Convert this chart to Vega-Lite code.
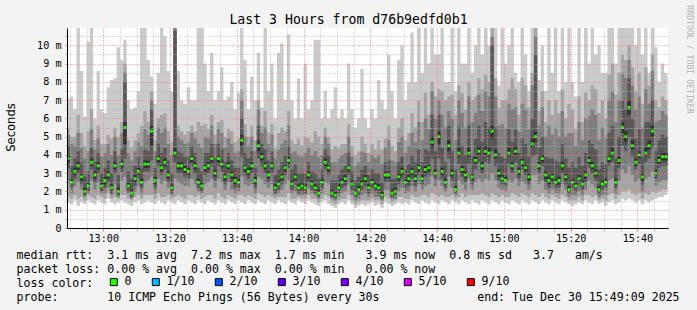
{
"$schema": "https://vega.github.io/schema/vega-lite/v6.json",
"width": 601, "height": 200,
"autosize": {"type": "none"},
"padding": {"left": 67, "top": 28, "right": 29, "bottom": 82},
"background": "#f3f3f3",
"view": {"fill": "#ffffff", "stroke": null},
"data": {"values": [
{"t":769,"a":1.4,"b":1.7,"c":2.6,"d":3.3,"e":3.6,"f":4.0,"g":4.5,"h":5.1,"i":5.5,"j":7.1,"m":3.8,"l":"0"},
{"t":770,"a":1.3,"b":1.6,"c":1.9,"d":2.2,"e":2.4,"f":2.7,"g":3.4,"h":4.6,"i":5.0,"j":7.2,"m":2.5,"l":"0"},
{"t":771,"a":1.5,"b":1.8,"c":2.3,"d":2.7,"e":2.9,"f":3.3,"g":3.8,"h":4.5,"i":5.0,"j":6.5,"m":3.1,"l":"0"},
{"t":772,"a":1.2,"b":1.6,"c":2.5,"d":3.0,"e":3.2,"f":3.6,"g":4.2,"h":5.2,"i":6.2,"j":11,"m":3.4,"l":"0"},
{"t":773,"a":1.4,"b":1.7,"c":2.1,"d":2.4,"e":2.6,"f":3.0,"g":3.6,"h":4.4,"i":5.2,"j":8.6,"m":2.8,"l":"0"},
{"t":774,"a":1.3,"b":1.5,"c":1.7,"d":1.8,"e":1.9,"f":2.2,"g":2.8,"h":3.8,"i":4.5,"j":6.1,"m":2.0,"l":"0"},
{"t":775,"a":1.5,"b":1.8,"c":1.9,"d":2.0,"e":2.2,"f":2.5,"g":3.1,"h":4.2,"i":5.3,"j":10.2,"m":2.3,"l":"0"},
{"t":776,"a":1.4,"b":1.7,"c":2.6,"d":3.2,"e":3.4,"f":3.8,"g":4.4,"h":5.4,"i":6.5,"j":11,"m":3.6,"l":"0"},
{"t":777,"a":1.3,"b":1.6,"c":2.1,"d":2.5,"e":2.7,"f":3.1,"g":3.6,"h":4.3,"i":4.8,"j":6.0,"m":2.9,"l":"0"},
{"t":778,"a":1.5,"b":1.8,"c":2.5,"d":3.0,"e":3.2,"f":3.6,"g":4.1,"h":4.9,"i":5.6,"j":8.6,"m":3.4,"l":"0"},
{"t":779,"a":1.4,"b":1.7,"c":1.9,"d":2.0,"e":2.2,"f":2.5,"g":3.0,"h":3.9,"i":4.6,"j":6.5,"m":2.3,"l":"0"},
{"t":780,"a":1.3,"b":1.6,"c":1.9,"d":2.2,"e":2.4,"f":2.8,"g":3.3,"h":4.1,"i":4.6,"j":6.3,"m":2.6,"l":"0"},
{"t":781,"a":1.6,"b":1.9,"c":2.2,"d":2.5,"e":2.7,"f":3.1,"g":3.7,"h":4.6,"i":5.1,"j":7.7,"m":2.9,"l":"0"},
{"t":782,"a":1.4,"b":1.6,"c":1.8,"d":1.9,"e":2.1,"f":2.4,"g":3.0,"h":4.0,"i":4.9,"j":8.1,"m":2.2,"l":"0"},
{"t":783,"a":1.3,"b":1.7,"c":2.4,"d":3.0,"e":3.2,"f":3.6,"g":4.2,"h":5.0,"i":5.5,"j":8.2,"m":3.4,"l":"0"},
{"t":784,"a":1.4,"b":1.6,"c":1.7,"d":1.8,"e":1.9,"f":2.2,"g":2.9,"h":4.0,"i":5.0,"j":9.9,"m":2.0,"l":"0"},
{"t":785,"a":1.5,"b":1.8,"c":2.6,"d":3.1,"e":3.3,"f":3.7,"g":4.3,"h":5.2,"i":5.8,"j":9.2,"m":3.5,"l":"0"},
{"t":786,"a":1.4,"b":1.8,"c":2.8,"d":3.8,"e":4.6,"f":5.8,"g":8.0,"h":8.5,"i":9.0,"j":10.3,"m":5.5,"l":"0"},
{"t":787,"a":1.3,"b":1.6,"c":1.9,"d":2.0,"e":2.2,"f":2.5,"g":3.1,"h":4.1,"i":4.8,"j":7.0,"m":2.3,"l":"0"},
{"t":788,"a":1.2,"b":1.5,"c":1.6,"d":1.7,"e":1.8,"f":2.1,"g":2.7,"h":3.7,"i":4.4,"j":6.5,"m":1.9,"l":"0"},
{"t":789,"a":1.4,"b":1.7,"c":2.0,"d":2.3,"e":2.5,"f":2.9,"g":3.4,"h":4.2,"i":4.8,"j":6.6,"m":2.7,"l":"0"},
{"t":790,"a":1.5,"b":1.8,"c":2.3,"d":2.7,"e":2.9,"f":3.3,"g":3.9,"h":4.7,"i":5.2,"j":7.5,"m":3.1,"l":"0"},
{"t":791,"a":1.3,"b":1.6,"c":1.9,"d":2.2,"e":2.4,"f":2.7,"g":3.3,"h":4.5,"i":5.6,"j":11,"m":2.5,"l":"0"},
{"t":792,"a":1.4,"b":1.8,"c":2.5,"d":3.1,"e":3.3,"f":3.7,"g":4.3,"h":5.4,"i":6.4,"j":11,"m":3.5,"l":"0"},
{"t":793,"a":1.5,"b":1.8,"c":2.6,"d":3.1,"e":3.3,"f":3.7,"g":4.2,"h":5.1,"i":5.8,"j":9.2,"m":3.5,"l":"0"},
{"t":794,"a":1.4,"b":1.8,"c":2.8,"d":3.7,"e":4.5,"f":5.6,"g":6.5,"h":7.0,"i":7.5,"j":8.3,"m":5.3,"l":"0"},
{"t":795,"a":1.3,"b":1.6,"c":1.9,"d":2.2,"e":2.4,"f":2.8,"g":3.3,"h":4.2,"i":4.8,"j":6.8,"m":2.6,"l":"0"},
{"t":796,"a":1.5,"b":1.9,"c":2.7,"d":3.4,"e":3.6,"f":4.0,"g":4.6,"h":5.5,"i":6.0,"j":8.5,"m":3.8,"l":"0"},
{"t":797,"a":1.4,"b":1.7,"c":2.4,"d":2.9,"e":3.1,"f":3.5,"g":4.1,"h":5.2,"i":6.2,"j":11,"m":3.3,"l":"0"},
{"t":798,"a":1.3,"b":1.7,"c":2.6,"d":3.2,"e":3.4,"f":3.8,"g":4.4,"h":5.5,"i":6.3,"j":10.5,"m":3.6,"l":"0"},
{"t":799,"a":1.5,"b":1.8,"c":2.2,"d":2.5,"e":2.7,"f":3.1,"g":3.7,"h":4.6,"i":5.3,"j":8.6,"m":2.9,"l":"0"},
{"t":800,"a":1.4,"b":1.6,"c":1.8,"d":1.9,"e":2.1,"f":2.4,"g":3.0,"h":4.0,"i":4.7,"j":7.5,"m":2.2,"l":"0"},
{"t":801,"a":1.3,"b":1.7,"c":2.7,"d":3.6,"e":3.9,"f":4.4,"g":10.8,"h":11,"i":11,"j":11,"m":4.1,"l":"0"},
{"t":802,"a":1.5,"b":1.8,"c":2.5,"d":3.0,"e":3.2,"f":3.6,"g":4.2,"h":5.0,"i":5.6,"j":8.6,"m":3.4,"l":"0"},
{"t":803,"a":1.4,"b":1.7,"c":2.4,"d":3.0,"e":3.2,"f":3.6,"g":4.1,"h":4.8,"i":5.3,"j":7.0,"m":3.4,"l":"0"},
{"t":804,"a":1.3,"b":1.6,"c":2.3,"d":2.8,"e":3.0,"f":3.4,"g":3.9,"h":4.6,"i":5.1,"j":6.8,"m":3.2,"l":"0"},
{"t":805,"a":1.5,"b":1.8,"c":2.3,"d":2.7,"e":2.9,"f":3.3,"g":3.9,"h":4.7,"i":5.3,"j":7.7,"m":3.1,"l":"0"},
{"t":806,"a":1.4,"b":1.8,"c":2.7,"d":3.4,"e":3.6,"f":4.0,"g":4.5,"h":5.2,"i":5.6,"j":7.0,"m":3.8,"l":"0"},
{"t":807,"a":1.3,"b":1.7,"c":2.4,"d":3.0,"e":3.2,"f":3.6,"g":4.1,"h":4.9,"i":5.3,"j":7.0,"m":3.4,"l":"0"},
{"t":808,"a":1.5,"b":1.8,"c":2.0,"d":2.2,"e":2.4,"f":2.7,"g":3.3,"h":4.6,"i":5.8,"j":11,"m":2.5,"l":"0"},
{"t":809,"a":1.4,"b":1.6,"c":1.9,"d":2.0,"e":2.2,"f":2.5,"g":3.1,"h":4.4,"i":5.6,"j":11,"m":2.3,"l":"0"},
{"t":810,"a":1.3,"b":1.7,"c":2.4,"d":2.9,"e":3.1,"f":3.5,"g":4.1,"h":5.0,"i":5.7,"j":9.0,"m":3.3,"l":"0"},
{"t":811,"a":1.5,"b":1.8,"c":2.5,"d":3.0,"e":3.2,"f":3.6,"g":4.1,"h":4.9,"i":5.4,"j":7.5,"m":3.4,"l":"0"},
{"t":812,"a":1.4,"b":1.8,"c":2.7,"d":3.4,"e":3.6,"f":4.0,"g":4.6,"h":5.6,"i":6.2,"j":9.6,"m":3.8,"l":"0"},
{"t":813,"a":1.3,"b":1.6,"c":2.2,"d":2.6,"e":2.8,"f":3.2,"g":3.8,"h":4.6,"i":5.1,"j":7.0,"m":3.0,"l":"0"},
{"t":814,"a":1.5,"b":1.9,"c":2.7,"d":3.4,"e":3.6,"f":4.0,"g":4.6,"h":5.4,"i":5.8,"j":7.5,"m":3.8,"l":"0"},
{"t":815,"a":1.4,"b":1.7,"c":2.5,"d":3.1,"e":3.3,"f":3.7,"g":4.3,"h":5.2,"i":5.9,"j":8.8,"m":3.5,"l":"0"},
{"t":816,"a":1.3,"b":1.6,"c":2.1,"d":2.4,"e":2.6,"f":3.0,"g":3.6,"h":4.4,"i":5.0,"j":7.0,"m":2.8,"l":"0"},
{"t":817,"a":1.5,"b":1.8,"c":2.5,"d":3.0,"e":3.2,"f":3.6,"g":4.1,"h":4.9,"i":5.4,"j":7.2,"m":3.4,"l":"0"},
{"t":818,"a":1.4,"b":1.7,"c":2.1,"d":2.5,"e":2.7,"f":3.1,"g":3.7,"h":4.6,"i":5.3,"j":8.0,"m":2.9,"l":"0"},
{"t":819,"a":1.3,"b":1.6,"c":1.9,"d":2.2,"e":2.4,"f":2.8,"g":3.3,"h":4.1,"i":4.7,"j":6.5,"m":2.6,"l":"0"},
{"t":820,"a":1.5,"b":1.8,"c":2.0,"d":2.2,"e":2.4,"f":2.7,"g":3.3,"h":4.2,"i":4.9,"j":7.4,"m":2.5,"l":"0"},
{"t":821,"a":1.4,"b":1.8,"c":2.8,"d":3.9,"e":4.5,"f":5.1,"g":6.0,"h":7.0,"i":7.6,"j":11,"m":4.8,"l":"0"},
{"t":822,"a":1.3,"b":1.7,"c":2.4,"d":2.9,"e":3.1,"f":3.5,"g":4.1,"h":5.0,"i":5.7,"j":9.2,"m":3.3,"l":"0"},
{"t":823,"a":1.5,"b":1.8,"c":2.3,"d":2.7,"e":2.9,"f":3.3,"g":3.8,"h":4.5,"i":5.0,"j":6.5,"m":3.1,"l":"0"},
{"t":824,"a":1.4,"b":1.7,"c":2.4,"d":3.0,"e":3.2,"f":3.6,"g":4.2,"h":5.0,"i":5.6,"j":8.3,"m":3.4,"l":"0"},
{"t":825,"a":1.3,"b":1.6,"c":1.9,"d":2.2,"e":2.4,"f":2.8,"g":3.3,"h":4.2,"i":4.8,"j":7.0,"m":2.6,"l":"0"},
{"t":826,"a":1.5,"b":1.9,"c":2.8,"d":3.8,"e":4.2,"f":4.8,"g":5.6,"h":6.5,"i":7.0,"j":9.6,"m":4.5,"l":"0"},
{"t":827,"a":1.4,"b":1.8,"c":2.7,"d":3.4,"e":3.7,"f":4.1,"g":4.6,"h":5.2,"i":5.6,"j":6.6,"m":3.9,"l":"0"},
{"t":828,"a":1.3,"b":1.7,"c":2.4,"d":3.0,"e":3.2,"f":3.6,"g":4.3,"h":5.5,"i":6.4,"j":11,"m":3.4,"l":"0"},
{"t":829,"a":1.5,"b":1.8,"c":2.2,"d":2.5,"e":2.7,"f":3.1,"g":3.7,"h":4.6,"i":5.2,"j":7.5,"m":2.9,"l":"0"},
{"t":830,"a":1.4,"b":1.7,"c":2.4,"d":3.0,"e":3.2,"f":3.6,"g":4.2,"h":5.1,"i":5.7,"j":9.0,"m":3.4,"l":"0"},
{"t":831,"a":1.3,"b":1.6,"c":1.8,"d":1.9,"e":2.1,"f":2.4,"g":2.9,"h":3.8,"i":4.4,"j":6.0,"m":2.2,"l":"0"},
{"t":832,"a":1.5,"b":1.7,"c":1.9,"d":2.1,"e":2.3,"f":2.6,"g":3.2,"h":4.3,"i":5.2,"j":9.6,"m":2.4,"l":"0"},
{"t":833,"a":1.4,"b":1.7,"c":2.1,"d":2.4,"e":2.6,"f":3.0,"g":3.6,"h":4.6,"i":5.5,"j":10.1,"m":2.8,"l":"0"},
{"t":834,"a":1.3,"b":1.7,"c":2.4,"d":2.9,"e":3.1,"f":3.5,"g":4.0,"h":4.8,"i":5.3,"j":7.0,"m":3.3,"l":"0"},
{"t":835,"a":1.5,"b":1.9,"c":2.6,"d":3.3,"e":3.5,"f":3.9,"g":4.5,"h":5.6,"i":6.4,"j":10.6,"m":3.7,"l":"0"},
{"t":836,"a":1.4,"b":1.6,"c":1.9,"d":2.1,"e":2.3,"f":2.6,"g":3.2,"h":4.1,"i":4.8,"j":7.0,"m":2.4,"l":"0"},
{"t":837,"a":1.3,"b":1.6,"c":2.0,"d":2.4,"e":2.6,"f":3.0,"g":3.5,"h":4.2,"i":4.6,"j":6.0,"m":2.8,"l":"0"},
{"t":838,"a":1.5,"b":1.7,"c":1.8,"d":1.9,"e":2.1,"f":2.4,"g":3.0,"h":4.0,"i":4.9,"j":8.2,"m":2.2,"l":"0"},
{"t":839,"a":1.4,"b":1.6,"c":1.8,"d":2.0,"e":2.2,"f":2.5,"g":3.0,"h":3.9,"i":4.5,"j":6.0,"m":2.3,"l":"0"},
{"t":840,"a":1.3,"b":1.6,"c":1.8,"d":1.9,"e":2.1,"f":2.4,"g":3.0,"h":4.1,"i":5.0,"j":9.0,"m":2.2,"l":"0"},
{"t":841,"a":1.5,"b":1.8,"c":2.2,"d":2.5,"e":2.7,"f":3.1,"g":3.6,"h":4.4,"i":4.9,"j":6.5,"m":2.9,"l":"0"},
{"t":842,"a":1.4,"b":1.6,"c":1.9,"d":2.1,"e":2.3,"f":2.6,"g":3.1,"h":4.0,"i":4.7,"j":7.0,"m":2.4,"l":"0"},
{"t":843,"a":1.3,"b":1.6,"c":1.8,"d":1.9,"e":2.1,"f":2.4,"g":3.0,"h":4.2,"i":5.3,"j":10.3,"m":2.2,"l":"0"},
{"t":844,"a":1.2,"b":1.4,"c":1.6,"d":1.7,"e":1.8,"f":2.1,"g":2.7,"h":3.9,"i":5.0,"j":10.3,"m":1.9,"l":"0"},
{"t":845,"a":1.4,"b":1.6,"c":1.9,"d":2.2,"e":2.4,"f":2.7,"g":3.2,"h":4.0,"i":4.6,"j":6.0,"m":2.5,"l":"0"},
{"t":846,"a":1.5,"b":1.8,"c":2.5,"d":3.2,"e":3.4,"f":3.8,"g":4.3,"h":5.0,"i":5.5,"j":7.5,"m":3.6,"l":"0"},
{"t":847,"a":1.3,"b":1.7,"c":2.4,"d":2.9,"e":3.1,"f":3.5,"g":4.0,"h":4.6,"i":5.0,"j":6.0,"m":3.3,"l":"0"},
{"t":848,"a":1.2,"b":1.4,"c":1.6,"d":1.7,"e":1.8,"f":2.1,"g":2.6,"h":3.6,"i":4.3,"j":6.5,"m":1.9,"l":"0"},
{"t":849,"a":1.1,"b":1.3,"c":1.5,"d":1.6,"e":1.7,"f":2.0,"g":2.6,"h":3.6,"i":4.5,"j":7.7,"m":1.8,"l":"0"},
{"t":850,"a":1.3,"b":1.5,"c":1.7,"d":1.9,"e":2.1,"f":2.4,"g":2.9,"h":3.8,"i":4.4,"j":6.0,"m":2.2,"l":"0"},
{"t":851,"a":1.4,"b":1.6,"c":1.9,"d":2.2,"e":2.4,"f":2.7,"g":3.2,"h":4.0,"i":4.6,"j":6.5,"m":2.5,"l":"0"},
{"t":852,"a":1.3,"b":1.6,"c":2.0,"d":2.3,"e":2.5,"f":2.9,"g":3.4,"h":4.1,"i":4.6,"j":6.0,"m":2.7,"l":"0"},
{"t":853,"a":1.5,"b":1.8,"c":2.4,"d":2.9,"e":3.1,"f":3.5,"g":4.1,"h":5.0,"i":5.7,"j":9.0,"m":3.3,"l":"0"},
{"t":854,"a":1.3,"b":1.5,"c":1.8,"d":2.1,"e":2.3,"f":2.6,"g":3.1,"h":3.9,"i":4.5,"j":6.5,"m":2.4,"l":"0"},
{"t":855,"a":1.1,"b":1.3,"c":1.5,"d":1.7,"e":1.8,"f":2.1,"g":2.6,"h":3.4,"i":4.0,"j":5.5,"m":1.9,"l":"0"},
{"t":856,"a":1.2,"b":1.4,"c":1.6,"d":1.8,"e":2.0,"f":2.3,"g":2.8,"h":3.6,"i":4.2,"j":6.0,"m":2.1,"l":"0"},
{"t":857,"a":1.3,"b":1.5,"c":1.8,"d":2.1,"e":2.3,"f":2.6,"g":3.2,"h":4.2,"i":5.0,"j":8.7,"m":2.4,"l":"0"},
{"t":858,"a":1.2,"b":1.5,"c":1.9,"d":2.3,"e":2.5,"f":2.9,"g":3.4,"h":4.1,"i":4.6,"j":6.0,"m":2.7,"l":"0"},
{"t":859,"a":1.3,"b":1.5,"c":1.7,"d":1.9,"e":2.1,"f":2.4,"g":2.9,"h":3.6,"i":4.1,"j":5.5,"m":2.2,"l":"0"},
{"t":860,"a":1.4,"b":1.6,"c":1.9,"d":2.2,"e":2.4,"f":2.7,"g":3.2,"h":4.0,"i":4.6,"j":6.5,"m":2.5,"l":"0"},
{"t":861,"a":1.2,"b":1.5,"c":1.7,"d":2.0,"e":2.2,"f":2.5,"g":3.0,"h":3.8,"i":4.3,"j":6.0,"m":2.3,"l":"0"},
{"t":862,"a":1.3,"b":1.5,"c":1.7,"d":1.9,"e":2.1,"f":2.4,"g":3.0,"h":4.0,"i":4.8,"j":8.1,"m":2.2,"l":"0"},
{"t":863,"a":1.1,"b":1.3,"c":1.5,"d":1.6,"e":1.7,"f":2.0,"g":2.5,"h":3.5,"i":4.3,"j":7.0,"m":1.8,"l":"0"},
{"t":864,"a":1.4,"b":1.7,"c":2.1,"d":2.5,"e":2.7,"f":3.1,"g":3.6,"h":4.4,"i":4.9,"j":6.5,"m":2.9,"l":"0"},
{"t":865,"a":1.3,"b":1.6,"c":2.1,"d":2.5,"e":2.7,"f":3.1,"g":3.7,"h":4.8,"i":5.6,"j":9.5,"m":2.9,"l":"0"},
{"t":866,"a":1.2,"b":1.4,"c":1.6,"d":1.7,"e":1.8,"f":2.1,"g":2.7,"h":3.7,"i":4.5,"j":7.5,"m":1.9,"l":"0"},
{"t":867,"a":1.3,"b":1.5,"c":1.6,"d":1.8,"e":1.9,"f":2.2,"g":2.7,"h":3.6,"i":4.2,"j":6.0,"m":2.0,"l":"0"},
{"t":868,"a":1.4,"b":1.7,"c":2.0,"d":2.4,"e":2.6,"f":3.0,"g":3.6,"h":4.7,"i":5.5,"j":9.2,"m":2.8,"l":"0"},
{"t":869,"a":1.3,"b":1.7,"c":2.2,"d":2.7,"e":2.9,"f":3.3,"g":3.9,"h":5.0,"i":6.0,"j":10.0,"m":3.1,"l":"0"},
{"t":870,"a":1.4,"b":1.6,"c":1.9,"d":2.2,"e":2.4,"f":2.7,"g":3.2,"h":4.1,"i":4.8,"j":7.0,"m":2.5,"l":"0"},
{"t":871,"a":1.3,"b":1.6,"c":2.0,"d":2.3,"e":2.5,"f":2.9,"g":3.5,"h":4.5,"i":5.2,"j":8.0,"m":2.7,"l":"0"},
{"t":872,"a":1.5,"b":1.8,"c":2.3,"d":2.7,"e":2.9,"f":3.3,"g":4.0,"h":5.2,"i":6.3,"j":10.7,"m":3.1,"l":"0"},
{"t":873,"a":1.4,"b":1.7,"c":2.0,"d":2.3,"e":2.5,"f":2.9,"g":3.6,"h":4.7,"i":5.5,"j":8.0,"m":2.7,"l":"0"},
{"t":874,"a":1.3,"b":1.7,"c":2.4,"d":2.9,"e":3.1,"f":3.5,"g":4.3,"h":5.8,"i":7.0,"j":11,"m":3.3,"l":"0"},
{"t":875,"a":1.5,"b":1.8,"c":2.1,"d":2.4,"e":2.6,"f":2.9,"g":3.6,"h":4.8,"i":5.8,"j":8.5,"m":2.7,"l":"0"},
{"t":876,"a":1.4,"b":1.8,"c":2.3,"d":2.8,"e":3.0,"f":3.4,"g":4.3,"h":6.0,"i":7.4,"j":11,"m":3.2,"l":"0"},
{"t":877,"a":1.3,"b":1.7,"c":2.4,"d":2.9,"e":3.1,"f":3.5,"g":4.2,"h":5.4,"i":6.2,"j":9.0,"m":3.3,"l":"0"},
{"t":878,"a":1.5,"b":1.9,"c":2.8,"d":3.8,"e":4.4,"f":5.0,"g":6.2,"h":7.5,"i":8.0,"j":11,"m":4.7,"l":"0"},
{"t":879,"a":1.4,"b":1.8,"c":2.3,"d":2.7,"e":2.9,"f":3.2,"g":4.2,"h":6.0,"i":7.2,"j":9.5,"m":3.0,"l":"0"},
{"t":880,"a":1.3,"b":1.7,"c":2.6,"d":3.8,"e":4.6,"f":5.3,"g":6.2,"h":7.0,"i":7.6,"j":9.5,"m":5.0,"l":"0"},
{"t":881,"a":1.5,"b":1.8,"c":2.3,"d":2.7,"e":2.9,"f":3.3,"g":4.4,"h":6.2,"i":7.5,"j":11,"m":3.1,"l":"0"},
{"t":882,"a":1.4,"b":1.7,"c":2.0,"d":2.2,"e":2.4,"f":2.7,"g":3.6,"h":5.5,"i":7.0,"j":8.0,"m":2.5,"l":"0"},
{"t":883,"a":1.3,"b":1.7,"c":2.8,"d":3.8,"e":4.2,"f":4.8,"g":5.6,"h":6.4,"i":7.2,"j":8.0,"m":4.5,"l":"0"},
{"t":884,"a":1.5,"b":1.8,"c":2.2,"d":2.6,"e":2.8,"f":3.2,"g":4.2,"h":6.0,"i":7.3,"j":11,"m":3.0,"l":"0"},
{"t":885,"a":1.4,"b":1.6,"c":1.8,"d":1.9,"e":2.0,"f":2.3,"g":3.2,"h":4.8,"i":6.2,"j":7.5,"m":2.1,"l":"0"},
{"t":886,"a":1.3,"b":1.7,"c":2.6,"d":3.5,"e":3.9,"f":4.4,"g":5.5,"h":7.0,"i":7.8,"j":11,"m":4.1,"l":"0"},
{"t":887,"a":1.5,"b":1.9,"c":2.4,"d":2.8,"e":3.0,"f":3.4,"g":4.5,"h":6.3,"i":7.4,"j":9.0,"m":3.2,"l":"0"},
{"t":888,"a":1.4,"b":1.7,"c":2.1,"d":2.5,"e":2.7,"f":3.1,"g":4.0,"h":5.5,"i":6.5,"j":9.0,"m":2.9,"l":"0"},
{"t":889,"a":1.3,"b":1.8,"c":2.7,"d":3.5,"e":3.9,"f":4.4,"g":5.6,"h":7.2,"i":8.0,"j":11,"m":4.1,"l":"0"},
{"t":890,"a":1.5,"b":1.8,"c":2.1,"d":2.4,"e":2.6,"f":3.0,"g":4.0,"h":5.8,"i":7.0,"j":8.5,"m":2.8,"l":"0"},
{"t":891,"a":1.4,"b":1.8,"c":2.5,"d":3.2,"e":3.5,"f":3.9,"g":4.9,"h":6.3,"i":7.2,"j":10.0,"m":3.7,"l":"0"},
{"t":892,"a":1.3,"b":1.8,"c":2.7,"d":3.6,"e":4.0,"f":4.5,"g":5.6,"h":7.3,"i":8.2,"j":11,"m":4.2,"l":"0"},
{"t":893,"a":1.5,"b":1.9,"c":2.5,"d":3.0,"e":3.2,"f":3.6,"g":4.7,"h":6.4,"i":7.6,"j":9.5,"m":3.4,"l":"0"},
{"t":894,"a":1.4,"b":1.8,"c":2.7,"d":3.6,"e":4.0,"f":4.5,"g":5.8,"h":7.5,"i":8.4,"j":11,"m":4.2,"l":"0"},
{"t":895,"a":1.3,"b":1.7,"c":2.6,"d":3.5,"e":3.9,"f":4.4,"g":5.5,"h":7.2,"i":8.0,"j":10.0,"m":4.1,"l":"0"},
{"t":896,"a":1.5,"b":1.9,"c":3.0,"d":4.2,"e":4.9,"f":5.6,"g":10.0,"h":10.5,"i":11,"j":11,"m":5.3,"l":"0"},
{"t":897,"a":1.4,"b":1.8,"c":2.6,"d":3.4,"e":3.8,"f":4.3,"g":5.5,"h":7.2,"i":8.2,"j":11,"m":4.0,"l":"0"},
{"t":898,"a":1.3,"b":1.7,"c":2.2,"d":2.6,"e":2.8,"f":3.2,"g":4.1,"h":5.6,"i":6.6,"j":7.8,"m":3.0,"l":"0"},
{"t":899,"a":1.5,"b":1.8,"c":2.1,"d":2.4,"e":2.6,"f":2.9,"g":3.9,"h":5.7,"i":7.0,"j":11,"m":2.7,"l":"0"},
{"t":900,"a":1.4,"b":1.7,"c":2.0,"d":2.3,"e":2.5,"f":2.8,"g":3.8,"h":5.5,"i":7.0,"j":9.0,"m":2.6,"l":"0"},
{"t":901,"a":1.3,"b":1.7,"c":2.6,"d":3.5,"e":3.9,"f":4.4,"g":5.4,"h":6.8,"i":7.6,"j":10.0,"m":4.1,"l":"0"},
{"t":902,"a":1.5,"b":1.9,"c":2.5,"d":3.0,"e":3.2,"f":3.6,"g":4.7,"h":6.5,"i":8.2,"j":11,"m":3.4,"l":"0"},
{"t":903,"a":1.4,"b":1.8,"c":2.7,"d":3.6,"e":4.0,"f":4.5,"g":5.4,"h":6.6,"i":7.6,"j":8.5,"m":4.2,"l":"0"},
{"t":904,"a":1.3,"b":1.7,"c":2.3,"d":2.7,"e":2.9,"f":3.3,"g":4.1,"h":5.3,"i":6.2,"j":8.0,"m":3.1,"l":"0"},
{"t":905,"a":1.5,"b":1.9,"c":2.5,"d":3.2,"e":3.4,"f":3.8,"g":4.9,"h":6.8,"i":8.2,"j":11,"m":3.6,"l":"0"},
{"t":906,"a":1.4,"b":1.8,"c":2.4,"d":2.9,"e":3.1,"f":3.5,"g":4.6,"h":6.5,"i":7.8,"j":9.5,"m":3.3,"l":"0"},
{"t":907,"a":1.3,"b":1.7,"c":2.1,"d":2.4,"e":2.6,"f":3.0,"g":3.9,"h":5.4,"i":6.6,"j":7.5,"m":2.8,"l":"0"},
{"t":908,"a":1.5,"b":1.9,"c":2.9,"d":3.9,"e":4.4,"f":4.9,"g":6.0,"h":7.8,"i":8.5,"j":11,"m":4.6,"l":"0"},
{"t":909,"a":1.4,"b":1.8,"c":2.9,"d":4.0,"e":4.7,"f":5.3,"g":9.5,"h":10.5,"i":11,"j":11,"m":5.0,"l":"0"},
{"t":910,"a":1.3,"b":1.7,"c":2.4,"d":3.0,"e":3.2,"f":3.6,"g":4.4,"h":5.6,"i":6.4,"j":8.1,"m":3.4,"l":"0"},
{"t":911,"a":1.5,"b":1.9,"c":2.6,"d":3.4,"e":3.6,"f":4.0,"g":5.0,"h":6.6,"i":7.5,"j":10.0,"m":3.8,"l":"0"},
{"t":912,"a":1.4,"b":1.7,"c":2.1,"d":2.5,"e":2.7,"f":3.1,"g":3.9,"h":5.0,"i":5.8,"j":7.5,"m":2.9,"l":"0"},
{"t":913,"a":1.3,"b":1.6,"c":1.9,"d":2.2,"e":2.4,"f":2.8,"g":3.8,"h":5.6,"i":7.0,"j":11,"m":2.6,"l":"0"},
{"t":914,"a":1.5,"b":1.8,"c":2.1,"d":2.4,"e":2.6,"f":3.0,"g":3.8,"h":5.1,"i":6.2,"j":8.5,"m":2.8,"l":"0"},
{"t":915,"a":1.4,"b":1.7,"c":1.9,"d":2.2,"e":2.4,"f":2.7,"g":3.7,"h":5.5,"i":7.0,"j":11,"m":2.5,"l":"0"},
{"t":916,"a":1.3,"b":1.6,"c":1.9,"d":2.2,"e":2.4,"f":2.8,"g":3.6,"h":5.0,"i":6.3,"j":7.5,"m":2.6,"l":"0"},
{"t":917,"a":1.5,"b":1.8,"c":2.4,"d":3.0,"e":3.2,"f":3.6,"g":4.6,"h":6.4,"i":7.6,"j":11,"m":3.4,"l":"0"},
{"t":918,"a":1.4,"b":1.7,"c":2.1,"d":2.4,"e":2.6,"f":3.0,"g":3.8,"h":5.0,"i":6.0,"j":8.0,"m":2.8,"l":"0"},
{"t":919,"a":1.3,"b":1.5,"c":1.7,"d":1.9,"e":2.0,"f":2.3,"g":3.3,"h":5.2,"i":6.8,"j":11,"m":2.1,"l":"0"},
{"t":920,"a":1.2,"b":1.5,"c":1.8,"d":2.2,"e":2.4,"f":2.7,"g":3.6,"h":5.2,"i":6.5,"j":8.0,"m":2.5,"l":"0"},
{"t":921,"a":1.3,"b":1.5,"c":1.8,"d":2.0,"e":2.2,"f":2.5,"g":3.3,"h":4.5,"i":5.4,"j":7.2,"m":2.3,"l":"0"},
{"t":922,"a":1.4,"b":1.7,"c":2.0,"d":2.4,"e":2.6,"f":2.9,"g":3.9,"h":5.8,"i":7.2,"j":11,"m":2.7,"l":"0"},
{"t":923,"a":1.3,"b":1.5,"c":1.8,"d":2.1,"e":2.3,"f":2.6,"g":3.4,"h":4.8,"i":5.8,"j":8.0,"m":2.4,"l":"0"},
{"t":924,"a":1.5,"b":1.8,"c":2.1,"d":2.5,"e":2.7,"f":3.1,"g":4.1,"h":6.0,"i":7.4,"j":11,"m":2.9,"l":"0"},
{"t":925,"a":1.4,"b":1.8,"c":2.6,"d":3.3,"e":3.5,"f":3.9,"g":4.8,"h":6.1,"i":7.0,"j":9.0,"m":3.7,"l":"0"},
{"t":926,"a":1.3,"b":1.7,"c":2.4,"d":3.0,"e":3.2,"f":3.6,"g":4.6,"h":6.5,"i":7.8,"j":11,"m":3.4,"l":"0"},
{"t":927,"a":1.5,"b":1.8,"c":2.2,"d":2.6,"e":2.8,"f":3.2,"g":4.3,"h":6.2,"i":7.6,"j":9.5,"m":3.0,"l":"0"},
{"t":928,"a":1.3,"b":1.5,"c":1.7,"d":1.9,"e":2.0,"f":2.3,"g":3.2,"h":4.8,"i":6.3,"j":10.0,"m":2.1,"l":"0"},
{"t":929,"a":1.4,"b":1.6,"c":1.8,"d":2.1,"e":2.3,"f":2.6,"g":3.6,"h":5.5,"i":7.0,"j":8.5,"m":2.4,"l":"0"},
{"t":930,"a":1.2,"b":1.5,"c":1.8,"d":2.2,"e":2.4,"f":2.7,"g":3.5,"h":4.9,"i":6.0,"j":8.5,"m":2.5,"l":"0"},
{"t":931,"a":1.4,"b":1.8,"c":2.6,"d":3.4,"e":3.6,"f":4.0,"g":5.2,"h":7.0,"i":8.4,"j":11,"m":3.8,"l":"0"},
{"t":932,"a":1.5,"b":1.9,"c":2.7,"d":3.6,"e":3.9,"f":4.4,"g":5.6,"h":7.5,"i":9.0,"j":11,"m":4.1,"l":"0"},
{"t":933,"a":1.3,"b":1.6,"c":1.9,"d":2.2,"e":2.4,"f":2.7,"g":3.8,"h":5.8,"i":7.3,"j":9.0,"m":2.5,"l":"0"},
{"t":934,"a":1.4,"b":1.8,"c":2.6,"d":3.3,"e":3.5,"f":3.9,"g":5.0,"h":7.0,"i":8.5,"j":11,"m":3.7,"l":"0"},
{"t":935,"a":1.6,"b":2.0,"c":3.2,"d":4.5,"e":5.2,"f":5.8,"g":7.0,"h":8.5,"i":9.5,"j":11,"m":5.5,"l":"0"},
{"t":936,"a":1.5,"b":2.0,"c":3.0,"d":4.2,"e":4.7,"f":5.3,"g":6.5,"h":8.2,"i":9.2,"j":11,"m":5.0,"l":"0"},
{"t":937,"a":1.6,"b":2.1,"c":3.4,"d":5.0,"e":6.2,"f":7.0,"g":8.2,"h":9.2,"i":10.0,"j":11,"m":6.6,"l":"0"},
{"t":938,"a":1.5,"b":1.9,"c":2.9,"d":3.9,"e":4.3,"f":4.8,"g":6.0,"h":7.8,"i":8.8,"j":11,"m":4.5,"l":"0"},
{"t":939,"a":1.4,"b":1.8,"c":2.5,"d":3.2,"e":3.4,"f":3.8,"g":4.9,"h":6.5,"i":7.5,"j":10.0,"m":3.6,"l":"0"},
{"t":940,"a":1.5,"b":1.9,"c":2.7,"d":3.5,"e":3.8,"f":4.2,"g":5.4,"h":7.2,"i":8.5,"j":11,"m":4.0,"l":"0"},
{"t":941,"a":1.3,"b":1.6,"c":2.0,"d":2.4,"e":2.6,"f":3.0,"g":3.9,"h":5.5,"i":6.8,"j":9.5,"m":2.8,"l":"0"},
{"t":942,"a":1.5,"b":1.9,"c":2.7,"d":3.6,"e":3.9,"f":4.4,"g":5.8,"h":7.6,"i":8.8,"j":11,"m":4.1,"l":"0"},
{"t":943,"a":1.4,"b":1.8,"c":2.8,"d":3.8,"e":4.3,"f":4.8,"g":5.8,"h":6.8,"i":7.8,"j":8.5,"m":4.5,"l":"0"},
{"t":944,"a":1.5,"b":2.0,"c":3.1,"d":4.4,"e":5.0,"f":5.6,"g":7.0,"h":8.6,"i":9.5,"j":11,"m":5.3,"l":"0"},
{"t":945,"a":1.6,"b":1.9,"c":2.3,"d":2.7,"e":2.9,"f":3.2,"g":4.2,"h":5.8,"i":7.0,"j":9.9,"m":3.0,"l":"0"},
{"t":946,"a":1.7,"b":2.0,"c":2.5,"d":3.3,"e":3.5,"f":3.9,"g":4.8,"h":5.9,"i":6.6,"j":8.0,"m":3.7,"l":"0"},
{"t":947,"a":1.7,"b":2.1,"c":2.6,"d":3.4,"e":3.7,"f":4.1,"g":5.1,"h":6.4,"i":7.2,"j":9.0,"m":3.9,"l":"0"},
{"t":948,"a":1.8,"b":2.1,"c":2.6,"d":3.4,"e":3.7,"f":4.1,"g":5.0,"h":6.2,"i":7.0,"j":8.5,"m":3.9,"l":"0"},
{"t":949,"a":1.8,"b":2.1,"c":2.6,"d":3.4,"e":3.7,"f":4.1,"g":5.0,"h":6.2,"i":7.0,"j":8.5,"m":3.9,"l":"0"}
]},
"layer": [
{
"mark": {"type": "area", "interpolate": "step-after", "color": "#cacaca", "opacity": 1, "clip": true},
"encoding": {
"x": {"field": "t", "type": "quantitative", "scale": {"domain": [769.15, 949.15], "nice": false, "zero": false},
"axis": {"orient": "bottom", "zindex": 1,
"values": [770,775,780,785,790,795,800,805,810,815,820,825,830,835,840,845,850,855,860,865,870,875,880,885,890,895,900,905,910,915,920,925,930,935,940,945],
"domainColor": "#000000", "domainWidth": 1,
"grid": true,
"gridColor": {"condition": {"test": "datum.value % 20 === 0", "value": "#ff7a7a"}, "value": "#b8b8b8"},
"gridDash": [1, 2],
"ticks": true, "tickSize": 3,
"tickColor": {"condition": {"test": "datum.value % 20 === 0", "value": "#ff7a7a"}, "value": "#b8b8b8"},
"labelExpr": "datum.value % 20 === 0 ? floor(datum.value / 60) + ':' + (datum.value % 60 < 10 ? '0' : '') + (datum.value % 60) : ''",
"labelFont": "DejaVu Sans Mono", "labelFontSize": 10.15, "labelColor": "#000000", "labelPadding": 2, "labelOverlap": false, "labelFlush": false,
"title": ["median\u00a0rtt:\u00a0\u00a03.1\u00a0ms\u00a0avg\u00a0\u00a07.2\u00a0ms\u00a0max\u00a0\u00a01.7\u00a0ms\u00a0min\u00a0\u00a0\u00a03.9\u00a0ms\u00a0now\u00a0\u00a00.8\u00a0ms\u00a0sd\u00a0\u00a0\u00a03.7\u00a0\u00a0\u00a0am/s",
"packet\u00a0loss:\u00a00.00\u00a0%\u00a0avg\u00a0\u00a00.00\u00a0%\u00a0max\u00a0\u00a00.00\u00a0%\u00a0min\u00a0\u00a0\u00a00.00\u00a0%\u00a0now"],
"titleFont": "DejaVu Sans Mono", "titleFontSize": 11.6, "titleFontWeight": "normal", "titleColor": "#000000",
"titleX": -51, "titleY": 30, "titleAlign": "left", "titleAnchor": "start", "titleBaseline": "alphabetic", "titleLineHeight": 14.2}},
"y": {"field": "a", "type": "quantitative", "scale": {"domain": [0, 10.95], "nice": false, "zero": true},
"axis": {"orient": "left", "zindex": 1,
"values": [0,0.5,1,1.5,2,2.5,3,3.5,4,4.5,5,5.5,6,6.5,7,7.5,8,8.5,9,9.5,10,10.5],
"domainColor": "#000000", "domainWidth": 1,
"grid": true,
"gridColor": {"condition": {"test": "datum.value % 1 === 0", "value": "#ff7a7a"}, "value": "#b8b8b8"},
"gridDash": [1, 2],
"ticks": true, "tickSize": 2,
"tickColor": {"condition": {"test": "datum.value % 1 === 0", "value": "#ff7a7a"}, "value": "#b8b8b8"},
"labelExpr": "datum.value === 0 ? '0' : (datum.value % 1 === 0 ? datum.value + ' m' : '')",
"labelFont": "DejaVu Sans Mono", "labelFontSize": 10.15, "labelColor": "#000000", "labelPadding": 4, "labelOverlap": false, "labelFlush": false,
"title": "Seconds", "titleFont": "DejaVu Sans", "titleFontSize": 11.6, "titleFontWeight": "normal", "titleColor": "#000000",
"titleX": -56, "titleY": 99, "titleAngle": 270, "titleAlign": "center", "titleBaseline": "middle"}},
"y2": {"field": "j"}
}
},
{
"mark": {"type": "area", "interpolate": "step-after", "color": "#a4a4a4", "opacity": 1, "clip": true},
"encoding": {
"x": {"field": "t", "type": "quantitative",
"axis": {"orient": "top", "domain": false, "ticks": false, "labels": false, "grid": false,
"title": "Last 3 Hours from d76b9edfd0b1", "titleFont": "DejaVu Sans Mono", "titleFontSize": 13.2, "titleFontWeight": "normal", "titleColor": "#000000",
"titleX": 281, "titleY": -5, "titleAlign": "center", "titleBaseline": "alphabetic", "titleAngle": 0}},
"y": {"field": "b", "type": "quantitative", "axis": null},
"y2": {"field": "i"}
}
},
{
"mark": {"type": "area", "interpolate": "step-after", "color": "#7e7e7e", "opacity": 1, "clip": true},
"encoding": {
"x": {"field": "t", "type": "quantitative",
"axis": {"orient": "bottom", "domain": false, "ticks": false, "labels": false, "grid": false,
"title": "probe:\u00a0\u00a0\u00a0\u00a0\u00a0\u00a0\u00a010\u00a0ICMP\u00a0Echo\u00a0Pings\u00a0(56\u00a0Bytes)\u00a0every\u00a030s\u00a0\u00a0\u00a0\u00a0\u00a0\u00a0\u00a0\u00a0\u00a0\u00a0\u00a0\u00a0\u00a0\u00a0end:\u00a0Tue\u00a0Dec\u00a030\u00a015:49:09\u00a02025",
"titleFont": "DejaVu Sans Mono", "titleFontSize": 11.6, "titleFontWeight": "normal", "titleColor": "#000000",
"titleX": -51, "titleY": 72.6, "titleAlign": "left", "titleAnchor": "start", "titleBaseline": "alphabetic"}},
"y": {"field": "c", "type": "quantitative", "axis": null},
"y2": {"field": "h"}
}
},
{
"mark": {"type": "area", "interpolate": "step-after", "color": "#585858", "opacity": 1, "clip": true},
"encoding": {
"x": {"field": "t", "type": "quantitative",
"axis": {"orient": "bottom", "domain": false, "ticks": false, "labels": false, "grid": false,
"title": "loss\u00a0color:",
"titleFont": "DejaVu Sans Mono", "titleFontSize": 11.6, "titleFontWeight": "normal", "titleColor": "#000000",
"titleX": -51, "titleY": 58.4, "titleAlign": "left", "titleAnchor": "start", "titleBaseline": "alphabetic"}},
"y": {"field": "d", "type": "quantitative", "axis": null},
"y2": {"field": "g"}
}
},
{
"mark": {"type": "area", "interpolate": "step-after", "color": "#323232", "opacity": 1, "clip": true},
"encoding": {
"x": {"field": "t", "type": "quantitative", "axis": null},
"y": {"field": "e", "type": "quantitative", "axis": null},
"y2": {"field": "f"}
}
},
{
"mark": {"type": "point", "shape": "square", "filled": true, "size": 8, "opacity": 1, "xOffset": 1.67, "clip": true},
"encoding": {
"x": {"field": "t", "type": "quantitative", "axis": null},
"y": {"field": "m", "type": "quantitative",
"axis": {"orient": "right", "domain": false, "ticks": false, "labels": false, "grid": false,
"title": "RRDTOOL / TOBI OETIKER", "titleFont": "DejaVu Sans Mono", "titleFontSize": 8.2, "titleFontWeight": "normal", "titleColor": "#b4b4b4",
"titleAngle": 90, "titleX": 20, "titleY": 31, "titleAlign": "center", "titleBaseline": "middle"}},
"color": {"field": "l", "type": "nominal",
"scale": {"domain": ["0","1/10","2/10","3/10","4/10","5/10","9/10"], "range": ["#26ff00","#00b8ff","#0059ff","#5e00ff","#7e00ff","#dd00ff","#ff0000"]},
"legend": {"orient": "none", "legendX": 41, "legendY": 248, "direction": "horizontal", "columns": 7, "title": null,
"symbolType": "square", "symbolSize": 49, "symbolStrokeColor": "#000000", "symbolStrokeWidth": 1, "symbolOpacity": 1,
"labelFont": "DejaVu Sans Mono", "labelFontSize": 11.6, "labelColor": "#000000", "labelOffset": 5, "labelBaseline": "middle",
"columnPadding": 18, "rowPadding": 0, "padding": 0, "offset": 0, "labelLimit": 100,
"encode": {"symbols": {"update": {"stroke": {"value": "#000000"}, "strokeWidth": {"value": 1}, "opacity": {"value": 1}}}}}}
}
}
],
"resolve": {"axis": {"x": "independent", "y": "independent"}}
}
